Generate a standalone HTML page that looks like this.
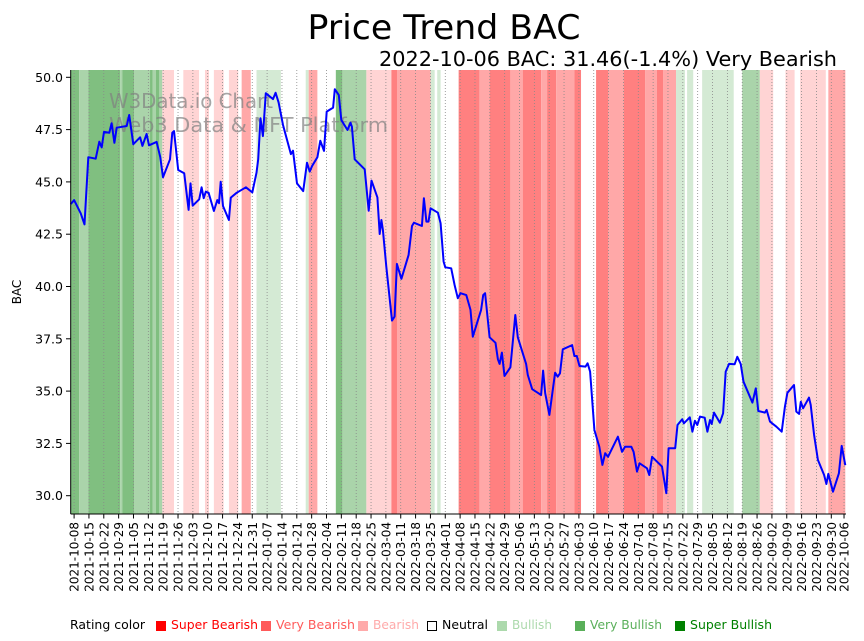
<!DOCTYPE html>
<html><head><meta charset="utf-8"><style>
body{margin:0;background:#fff;}
svg{display:block;font-family:"DejaVu Sans","Liberation Sans",sans-serif;}
</style></head><body>
<svg id="chart" width="864" height="641">
<text x="444" y="39" font-size="34" text-anchor="middle" textLength="273" lengthAdjust="spacingAndGlyphs">Price Trend BAC</text>
<text x="837" y="66" font-size="20" text-anchor="end" textLength="458" lengthAdjust="spacingAndGlyphs">2022-10-06 BAC: 31.46(-1.4%) Very Bearish</text>
<g id="bands"></g>
<g id="grid"></g>
<text x="109" y="108" font-size="20" fill="#808080" fill-opacity="0.7" textLength="164" lengthAdjust="spacingAndGlyphs">W3Data.io Chart</text>
<text x="109" y="132" font-size="20" fill="#808080" fill-opacity="0.7" textLength="279" lengthAdjust="spacingAndGlyphs">Web3 Data &amp; NFT Platform</text>
<path id="line" fill="none" stroke="#0000ff" stroke-width="2" stroke-linejoin="round"></path>
<line x1="70.7" y1="70" x2="70.7" y2="514" stroke="#000" stroke-width="1"/>
<line x1="70.7" y1="514" x2="846" y2="514" stroke="#000" stroke-width="1"/>
<g id="yticks"></g>
<g id="xticks"></g>
<text transform="translate(21,292) rotate(-90)" font-size="12" text-anchor="middle">BAC</text>
<g font-size="12">
<text x="70" y="629" textLength="75" lengthAdjust="spacingAndGlyphs">Rating color</text>
<g><rect x="156" y="621" width="10" height="10" fill="#ff0000"/><text x="171" y="629" fill="#ff0000" textLength="87" lengthAdjust="spacingAndGlyphs">Super Bearish</text></g>
<g><rect x="261" y="621" width="10" height="10" fill="#ff5a5a"/><text x="276" y="629" fill="#ff5a5a" textLength="79" lengthAdjust="spacingAndGlyphs">Very Bearish</text></g>
<g><rect x="358" y="621" width="10" height="10" fill="#ffaaaa"/><text x="373" y="629" fill="#ffaaaa" textLength="46" lengthAdjust="spacingAndGlyphs">Bearish</text></g>
<g><rect x="427.5" y="621.5" width="9" height="9" fill="none" stroke="#000"/><text x="442" y="629" fill="#000" textLength="46" lengthAdjust="spacingAndGlyphs">Neutral</text></g>
<g><rect x="497" y="621" width="10" height="10" fill="#acd9ac"/><text x="512" y="629" fill="#acd9ac" textLength="40" lengthAdjust="spacingAndGlyphs">Bullish</text></g>
<g><rect x="575" y="621" width="10" height="10" fill="#5aaf5a"/><text x="590" y="629" fill="#5aaf5a" textLength="72" lengthAdjust="spacingAndGlyphs">Very Bullish</text></g>
<g><rect x="675" y="621" width="10" height="10" fill="#008000"/><text x="690" y="629" fill="#008000" textLength="82" lengthAdjust="spacingAndGlyphs">Super Bullish</text></g>
</g>
</svg>
<script>
// days since 2021-10-08
const days=[-1.6,0,3.1,4.9,6.7,10.2,11.9,13,14.1,16.6,17.7,19,20.1,24.8,26,27.9,31.1,32.2,34.2,35.3,38.9,40.6,41.9,45.2,46.3,47.1,49.1,51.9,54,54.9,55.9,59,60.1,61.1,62.1,63.4,65.9,67.5,68.3,69.1,70.2,73,73.9,76.6,81,84,86,86.8,87.9,89,90.4,93.8,95,96.4,98.5,102.2,103.2,105.1,108,109.8,111.1,112.2,114.7,116.1,117.8,119.1,122.1,122.9,124.8,126,128.9,130.3,131,132.3,137,138.9,140.2,143,144.1,144.9,145.6,147.2,149.9,151.1,152.2,154.3,157.7,159.3,160.2,164,164.9,166.1,167.1,168.1,171.5,172.8,174.2,175,177.8,179.4,180.9,182.2,184.9,186.9,188,191.9,192.9,193.8,195.9,198.7,199.8,200.6,201.7,202.9,205.7,208,209.2,213.1,213.9,216,218.6,220.2,221.1,222.1,224.1,226.8,228,229.1,230.4,234.8,235.9,237,238.3,241.1,242.1,243.3,245.3,247.6,249.1,250.4,251.7,256.4,258.3,259.8,262.7,263.8,265.4,266.6,270.1,271.2,272.5,277.2,279.2,280.3,283.4,284.5,286.7,287.5,290.3,291.5,292.7,293.8,295.1,297.3,298.6,299.8,300.6,301.7,304.5,306,307.2,308.8,311.4,312.7,314.3,315.6,319.8,321.4,322.6,325.7,326.5,328.1,331.1,333.6,335.1,336.3,339.4,340.5,341.8,342.6,343.7,346.5,347.3,348.9,350.7,353.6,354.7,355.6,357.8,360.6,361.9,363.6];
const prices=[43.94,44.13,43.5,42.97,46.18,46.11,46.92,46.65,47.39,47.35,47.8,46.87,47.59,47.67,48.2,46.8,47.13,46.72,47.29,46.75,46.91,46.2,45.22,46.08,47.35,47.43,45.57,45.41,43.66,44.93,43.86,44.17,44.74,44.22,44.53,44.48,43.61,44.13,43.98,45.01,43.85,43.18,44.25,44.48,44.74,44.5,45.44,46.08,48.04,47.19,49.24,48.96,49.26,48.8,47.72,46.33,46.49,44.93,44.56,45.92,45.49,45.76,46.18,46.97,46.48,48.36,48.55,49.43,49.15,47.96,47.48,47.83,47.64,46.08,45.6,43.62,45.06,44.26,42.51,43.18,42.7,40.95,38.37,38.56,41.08,40.37,41.51,42.89,43.05,42.89,44.22,43.1,43.1,43.74,43.53,43.02,41.19,40.92,40.87,40.07,39.44,39.68,39.59,38.88,37.6,38.88,39.59,39.68,37.57,37.31,36.52,36.3,36.84,35.72,36.14,38.64,37.57,36.3,35.77,35.09,34.92,34.81,35.98,34.9,33.86,35.88,35.69,35.85,37.0,37.2,36.68,36.68,36.2,36.17,36.33,35.93,33.14,32.34,31.47,32.03,31.86,32.82,32.1,32.34,32.34,32.1,31.15,31.55,31.31,30.99,31.86,31.39,30.12,32.27,32.27,33.38,33.65,33.46,33.75,33.06,33.58,33.38,33.78,33.73,33.06,33.62,33.43,33.97,33.49,33.94,35.93,36.3,36.28,36.64,36.3,35.45,34.45,35.13,34.05,33.97,34.1,33.54,33.3,33.06,34.25,34.92,35.29,34.02,33.91,34.49,34.18,34.69,34.34,32.9,31.71,30.99,30.56,31.04,30.19,31.07,32.38,31.46];
// rating bands: start day, end day, rating (-3..3)
const bandStart=[-1.6,2.4,6.7,21.7,22.7,28.4,35.8,37.1,38.6,40.2,41.6,51.5,61.7,65.9,73,79,86,109.2,110.6,123.4,126.5,137.8,149.6,152.4,168.1,171.2,181.3,191.1,195.9,205.7,211.5,220.2,223,227.3,235.9,246.1,251.9,259.1,269.3,274.8,277.8,283.8,289,296.1,315,323.3,335.4,342.3,355.6];
const bandEnd=[2.4,6.7,21.7,22.7,28.4,35.8,37.1,38.6,40.2,41.6,47.1,58.9,63.6,70.5,77.4,83.3,97.5,110.6,114.7,126.5,137.8,149.6,152.4,168.1,170,172.8,191.1,195.9,205.7,211.5,220.2,223,227.3,235.9,239,251.9,259.1,269.3,274.8,277.8,283.8,288,291.9,311,323.3,329.6,339.7,354.4,363.6];
const bandRating=[3,2,3,2,3,2,3,2,3,2,-1,-1,-1,-1,-1,-2,1,1,-2,3,2,-1,-3,-2,1,1,-3,-2,-3,-2,-3,-2,-3,-2,-3,-3,-2,-3,-2,-3,-2,1,1,1,2,-1,-1,-1,-2];
const yTicks=[30,32.5,35,37.5,40,42.5,45,47.5,50];

const X0=-1.6,X1=363.6,PX0=70.7,PX1=845.3;
const x=d=>PX0+(d-X0)/(X1-X0)*(PX1-PX0);
const y=v=>77.3+(50-v)*20.92;
const NS="http://www.w3.org/2000/svg";
const colors={"-3":"#ff8080","-2":"#ffa8a8","-1":"#ffd4d4","1":"#d4ead4","2":"#aad4aa","3":"#80bf80"};
const bg=document.getElementById('bands');
for(let i=0;i<bandStart.length;i++){
  const r=document.createElementNS(NS,'rect');
  r.setAttribute('x',x(bandStart[i]));r.setAttribute('width',Math.max(0,x(bandEnd[i])-x(bandStart[i])));
  r.setAttribute('y',70);r.setAttribute('height',444);
  r.setAttribute('fill',colors[bandRating[i]]);
  
  
  bg.appendChild(r);
}
let dpath='';
for(let i=0;i<days.length;i++){dpath+=(i?'L':'M')+x(days[i]).toFixed(1)+','+y(prices[i]).toFixed(1);}
document.getElementById('line').setAttribute('d',dpath);
const yt=document.getElementById('yticks');
yTicks.forEach(v=>{
  const l=document.createElementNS(NS,'line');
  l.setAttribute('x1',66);l.setAttribute('x2',70.7);l.setAttribute('y1',y(v));l.setAttribute('y2',y(v));l.setAttribute('stroke','#000');
  
  
  yt.appendChild(l);
  const t=document.createElementNS(NS,'text');
  t.setAttribute('x',63);t.setAttribute('y',y(v)+4.5);t.setAttribute('text-anchor','end');t.setAttribute('font-size','12.5');
  t.textContent=v.toFixed(1);
  
  
  yt.appendChild(t);
});
const xTickDays=[];for(let k=0;k<=51;k++)xTickDays.push(k*7);xTickDays.push(363);
const start=Date.UTC(2021,9,8);
const xt=document.getElementById('xticks'),gr=document.getElementById('grid');
xTickDays.forEach(d=>{
  const px=x(d);
  const g=document.createElementNS(NS,'line');
  g.setAttribute('x1',px);g.setAttribute('x2',px);g.setAttribute('y1',70);g.setAttribute('y2',514);
  g.setAttribute('stroke','#888');g.setAttribute('stroke-width','0.8');g.setAttribute('stroke-dasharray','1,2');
  
  
  gr.appendChild(g);
  const l=document.createElementNS(NS,'line');
  l.setAttribute('x1',px);l.setAttribute('x2',px);l.setAttribute('y1',514);l.setAttribute('y2',518.5);l.setAttribute('stroke','#000');
  
  
  xt.appendChild(l);
  const t=document.createElementNS(NS,'text');
  const lab=new Date(start+d*86400000).toISOString().slice(0,10);
  t.setAttribute('transform','translate('+(px+4.5)+',522) rotate(-90)');
  t.setAttribute('text-anchor','end');t.setAttribute('font-size','12');
  t.textContent=lab;
  
  
  xt.appendChild(t);
});
</script>
</body></html>
